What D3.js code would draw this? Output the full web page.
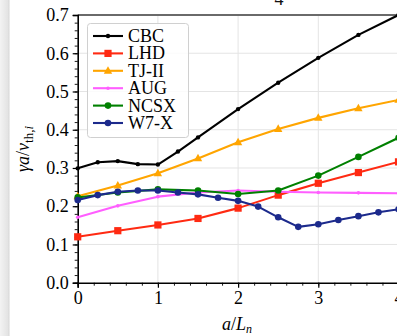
<!DOCTYPE html>
<html><head><meta charset="utf-8">
<script src="https://cdn.jsdelivr.net/npm/d3@7"></script>
<style>body{margin:0;background:#fff;}svg{display:block;}</style>
</head><body>
<svg id="c" width="397" height="336"></svg>
<script>
const xCBC  = [0,0.25,0.5,0.75,1,1.25,1.5,2,2.5,3,3.5,4];
const yCBC  = [0.299,0.315,0.318,0.310,0.309,0.343,0.380,0.454,0.523,0.588,0.648,0.700];
const xStd  = [0,0.5,1,1.5,2,2.5,3,3.5,4];
const yLHD  = [0.120,0.136,0.151,0.168,0.195,0.229,0.260,0.288,0.316];
const yTJ   = [0.226,0.254,0.286,0.325,0.367,0.402,0.431,0.456,0.478];
const yAUG  = [0.171,0.201,0.225,0.236,0.241,0.238,0.236,0.235,0.234];
const yNCSX = [0.223,0.236,0.244,0.241,0.232,0.241,0.280,0.329,0.379];
const xW7X  = [0,0.25,0.5,0.75,1,1.25,1.5,1.75,2,2.25,2.5,2.75,3,3.25,3.5,3.75,4];
const yW7X  = [0.216,0.229,0.238,0.241,0.241,0.236,0.231,0.222,0.214,0.199,0.171,0.146,0.153,0.164,0.174,0.184,0.192];
const seriesNames = ["CBC","LHD","TJ-II","AUG","NCSX","W7-X"];
const xTicks = [0,1,2,3,4];
const yTicks = [0.0,0.1,0.2,0.3,0.4,0.5,0.6,0.7];

const series = [
  {name:"CBC",  xs:xCBC, ys:yCBC,  color:"#000000", marker:"dot",  r:2.2},
  {name:"LHD",  xs:xStd, ys:yLHD,  color:"#ff2a12", marker:"square", r:3.6},
  {name:"TJ-II",xs:xStd, ys:yTJ,   color:"#ffa500", marker:"tri", r:4.2},
  {name:"AUG",  xs:xStd, ys:yAUG,  color:"#ff5eff", marker:"dot", r:1.8},
  {name:"NCSX", xs:xStd, ys:yNCSX, color:"#008000", marker:"dot", r:3.3},
  {name:"W7-X", xs:xW7X, ys:yW7X,  color:"#1c2a8c", marker:"dot", r:3.3}
];

const svg = d3.select("#c");
const font = "'Liberation Serif', 'DejaVu Serif', serif";
const x = d3.scaleLinear().domain([0,4]).range([77.7,398.5]);
const y = d3.scaleLinear().domain([0,0.7]).range([282.7,15]);

// left shadow strip
const defs = svg.append("defs");
const g1 = defs.append("linearGradient").attr("id","sh").attr("x1","0").attr("x2","1");
g1.append("stop").attr("offset","0").attr("stop-color","#f3f3f3");
g1.append("stop").attr("offset","0.8").attr("stop-color","#e4e4e4");
g1.append("stop").attr("offset","1").attr("stop-color","#d6d6d6");
svg.append("rect").attr("x",0).attr("y",0).attr("width",9.5).attr("height",336).attr("fill","url(#sh)");

// partial title glyph (title cut off at the top edge)
svg.append("text").attr("x",279).attr("y",4.5).attr("font-family",font).attr("font-size",18)
  .attr("text-anchor","middle").attr("fill","#111").text("4");

// grid
svg.append("g").selectAll("line").data([1,2,3]).join("line")
  .attr("x1",d=>x(d)).attr("x2",d=>x(d)).attr("y1",y(0)).attr("y2",y(0.7))
  .attr("stroke","#e4e4e4").attr("stroke-width",1);
svg.append("g").selectAll("line").data([0.1,0.2,0.3,0.4,0.5,0.6]).join("line")
  .attr("x1",x(0)).attr("x2",x(4)).attr("y1",d=>y(d)).attr("y2",d=>y(d))
  .attr("stroke","#e4e4e4").attr("stroke-width",1);

// top spine (gray)
svg.append("line").attr("x1",x(0)).attr("x2",x(4)).attr("y1",y(0.7)).attr("y2",y(0.7))
  .attr("stroke","#6a6a6a").attr("stroke-width",2);

// axes
const yMinor = d3.range(0,0.7001,0.02);
const xMinor = d3.range(0,4.0001,0.2);
const axL = svg.append("g").attr("transform",`translate(${x(0)},0)`);
axL.call(d3.axisLeft(y).tickValues(yMinor).tickSize(3).tickFormat(""));
axL.call(g=>g.selectAll(".domain").remove());
const axL2 = svg.append("g").attr("transform",`translate(${x(0)},0)`)
  .call(d3.axisLeft(y).tickValues(yTicks).tickSize(5).tickPadding(4).tickFormat(d3.format(".1f")));
axL2.select(".domain").attr("stroke-width",1.6);
axL2.selectAll("text").attr("font-family",font).attr("font-size",18).attr("fill","#000");
axL.selectAll("line").attr("stroke-width",0.9);
axL2.selectAll(".tick line").attr("stroke-width",1.2);

const axB = svg.append("g").attr("transform",`translate(0,${y(0)})`);
axB.call(d3.axisBottom(x).tickValues(xMinor).tickSize(3).tickFormat(""));
axB.call(g=>g.selectAll(".domain").remove());
axB.selectAll("line").attr("stroke-width",0.9);
const axB2 = svg.append("g").attr("transform",`translate(0,${y(0)})`)
  .call(d3.axisBottom(x).tickValues(xTicks).tickSize(5).tickPadding(4).tickFormat(d3.format("d")));
axB2.select(".domain").attr("stroke-width",1.6);
axB2.selectAll("text").attr("font-family",font).attr("font-size",18).attr("fill","#000");
axB2.selectAll(".tick line").attr("stroke-width",1.2);

// series
const line = d3.line();
function drawMarker(g, s, cx, cy){
  if(s.marker==="square"){
    g.append("rect").attr("x",cx-s.r).attr("y",cy-s.r).attr("width",2*s.r).attr("height",2*s.r).attr("fill",s.color);
  } else if(s.marker==="tri"){
    const r=s.r;
    g.append("path").attr("d",`M${cx},${cy-r*1.1}L${cx+r},${cy+r*0.7}L${cx-r},${cy+r*0.7}Z`).attr("fill",s.color);
  } else {
    g.append("circle").attr("cx",cx).attr("cy",cy).attr("r",s.r).attr("fill",s.color);
  }
}
const plot = svg.append("g");
series.forEach(s=>{
  const pts = s.xs.map((v,i)=>[x(v),y(s.ys[i])]);
  const g = plot.append("g");
  g.append("path").attr("d",line(pts)).attr("fill","none").attr("stroke",s.color).attr("stroke-width",2.1).attr("stroke-linejoin","round");
  pts.forEach(p=>drawMarker(g,s,p[0],p[1]));
});

// legend
const lg = svg.append("g");
lg.append("rect").attr("x",87.5).attr("y",23.5).attr("width",101).attr("height",114).attr("rx",3)
  .attr("fill","#fff").attr("fill-opacity",0.85).attr("stroke","#d0d0d0").attr("stroke-width",1);
series.forEach((s,i)=>{
  const ly = 36 + i*17.4;
  const g = lg.append("g");
  g.append("line").attr("x1",93).attr("x2",123).attr("y1",ly).attr("y2",ly).attr("stroke",s.color).attr("stroke-width",2.1);
  drawMarker(g,s,108,ly);
  g.append("text").attr("x",128).attr("y",ly+6).attr("font-family",font).attr("font-size",18).attr("fill","#000").text(seriesNames[i]);
});

// axis labels
const xl = svg.append("text").attr("x",237).attr("y",330).attr("text-anchor","middle")
  .attr("font-family",font).attr("font-size",18).attr("fill","#000");
xl.append("tspan").attr("font-style","italic").text("a");
xl.append("tspan").text("/");
xl.append("tspan").attr("font-style","italic").text("L");
xl.append("tspan").attr("font-style","italic").attr("font-size",12).attr("dy",3).text("n");

const yl = svg.append("text").attr("transform","translate(29,149) rotate(-90)").attr("text-anchor","middle")
  .attr("font-family",font).attr("font-size",18).attr("fill","#000");
yl.append("tspan").attr("font-style","italic").text("γa");
yl.append("tspan").text("/");
yl.append("tspan").attr("font-style","italic").text("v");
yl.append("tspan").attr("font-size",13).attr("dy",4).text("th,");
yl.append("tspan").attr("font-size",13).attr("font-style","italic").text("i");
</script>
</body></html>
